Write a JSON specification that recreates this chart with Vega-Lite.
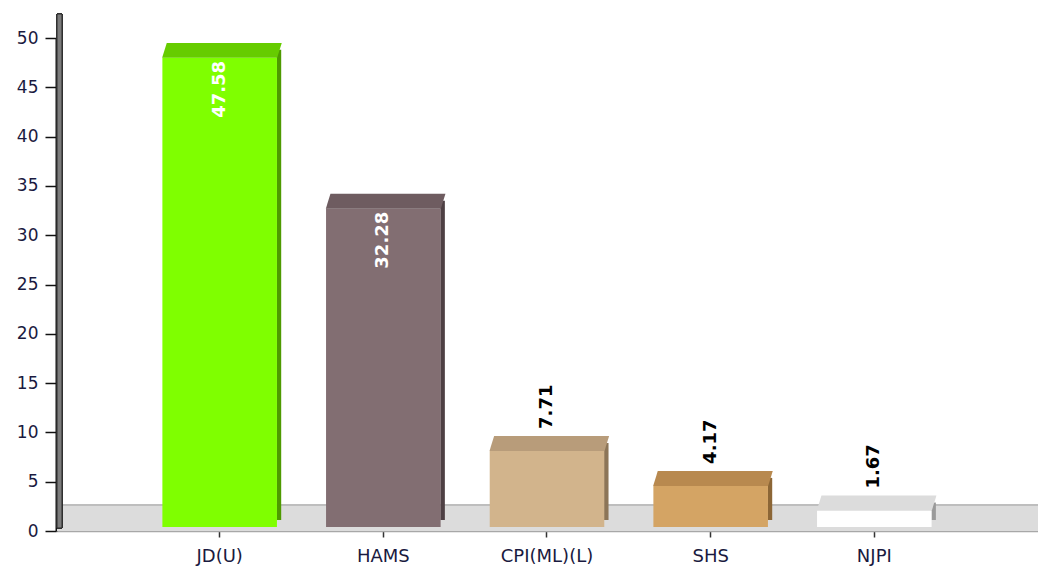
{
  "$schema": "https://vega.github.io/schema/vega-lite/v6.json",
  "width": 982,
  "height": 493,
  "autosize": {"type": "none"},
  "padding": {"left": 56, "top": 38, "right": 0, "bottom": 40},
  "background": "white",
  "config": {"view": {"stroke": null}, "font": "DejaVu Sans"},
  "data": {
    "values": [
      {"party": "JD(U)", "value": 47.58},
      {"party": "HAMS", "value": 32.28},
      {"party": "CPI(ML)(L)", "value": 7.71},
      {"party": "SHS", "value": 4.17},
      {"party": "NJPI", "value": 1.67}
    ]
  },
  "resolve": {"scale": {"color": "independent"}},
  "layer": [
    {
      "mark": {"type": "rect", "fill": "#DCDCDC", "y2Offset": -26},
      "encoding": {
        "x": {"value": 1},
        "x2": {"value": "width"},
        "y": {"datum": 0, "type": "quantitative"},
        "y2": {"datum": 0}
      }
    },
    {
      "mark": {"type": "rule", "color": "#BEBEBE", "strokeWidth": 1.5, "yOffset": -26},
      "encoding": {
        "x": {"value": 6},
        "x2": {"value": "width"},
        "y": {"datum": 0, "type": "quantitative"}
      }
    },
    {
      "mark": {"type": "rect", "fill": "#7C7C7C", "stroke": "#2A2A2A", "strokeWidth": 1, "yOffset": -3, "y2Offset": -24},
      "encoding": {
        "x": {"value": 1},
        "x2": {"value": 6},
        "y": {"datum": 0, "type": "quantitative"},
        "y2": {"datum": 50}
      }
    },
    {
      "mark": {"type": "rule", "strokeWidth": 4.5, "xOffset": 2, "yOffset": -12, "y2Offset": -11},
      "encoding": {
        "x": {"field": "party", "type": "nominal", "sort": null, "bandPosition": 1},
        "y": {"field": "value", "type": "quantitative"},
        "y2": {"datum": 0},
        "color": {
          "field": "party", "type": "nominal", "sort": null, "legend": null,
          "scale": {"domain": ["JD(U)", "HAMS", "CPI(ML)(L)", "SHS", "NJPI"], "range": ["#4E9A00", "#4E4044", "#8C7558", "#8C6636", "#9A9A9A"]}
        }
      }
    },
    {
      "mark": {"type": "bar", "yOffset": -4, "y2Offset": -4},
      "encoding": {
        "x": {
          "field": "party", "type": "nominal", "sort": null,
          "scale": {"paddingInner": 0.3, "paddingOuter": 0.65},
          "axis": {
            "title": null, "labelAngle": 0, "labelAlign": "center", "labelBaseline": "top",
            "labelFontSize": 18, "labelColor": "#1A1A40",
            "labelPadding": 10, "domainColor": "#A8A8A8", "domainWidth": 1.5,
            "tickColor": "#333333", "tickSize": 6, "tickWidth": 1.5
          }
        },
        "y": {
          "field": "value", "type": "quantitative",
          "scale": {"domain": [0, 50], "nice": false},
          "axis": {
            "title": null, "values": [0, 5, 10, 15, 20, 25, 30, 35, 40, 45, 50],
            "grid": false, "labelFontSize": 17, "labelColor": "#1A1A40",
            "labelPadding": 7, "tickSize": 11, "tickColor": "#111111", "tickWidth": 1.5,
            "domainColor": "#111111", "domainWidth": 2
          }
        },
        "y2": {"datum": 0},
        "color": {
          "field": "party", "type": "nominal", "sort": null, "legend": null,
          "scale": {"domain": ["JD(U)", "HAMS", "CPI(ML)(L)", "SHS", "NJPI"], "range": ["#7FFF00", "#826E72", "#D2B48C", "#D4A464", "#FFFFFF"]}
        }
      }
    },
    {
      "mark": {"type": "point", "filled": true, "opacity": 1, "strokeWidth": 0, "yOffset": -4,
               "shape": "M-1,0L1,0L1.08,-0.26L-0.92,-0.26Z", "size": 13225},
      "encoding": {
        "x": {"field": "party", "type": "nominal", "sort": null},
        "y": {"field": "value", "type": "quantitative"},
        "color": {
          "field": "party", "type": "nominal", "sort": null, "legend": null,
          "scale": {"domain": ["JD(U)", "HAMS", "CPI(ML)(L)", "SHS", "NJPI"], "range": ["#66CC00", "#6E5C60", "#B89C7A", "#B8894F", "#DCDCDC"]}
        }
      }
    },
    {
      "transform": [{"filter": "datum.value >= 10"}],
      "mark": {"type": "text", "angle": 270, "align": "right", "baseline": "middle",
               "fontSize": 18, "fontWeight": "bold", "color": "white", "yOffset": -1},
      "encoding": {
        "x": {"field": "party", "type": "nominal", "sort": null},
        "y": {"field": "value", "type": "quantitative"},
        "text": {"field": "value", "type": "quantitative", "format": ".2f"}
      }
    },
    {
      "transform": [{"filter": "datum.value < 10"}],
      "mark": {"type": "text", "angle": 270, "align": "left", "baseline": "middle",
               "fontSize": 18, "fontWeight": "bold", "color": "black", "yOffset": -26},
      "encoding": {
        "x": {"field": "party", "type": "nominal", "sort": null},
        "y": {"field": "value", "type": "quantitative"},
        "text": {"field": "value", "type": "quantitative", "format": ".2f"}
      }
    }
  ]
}
